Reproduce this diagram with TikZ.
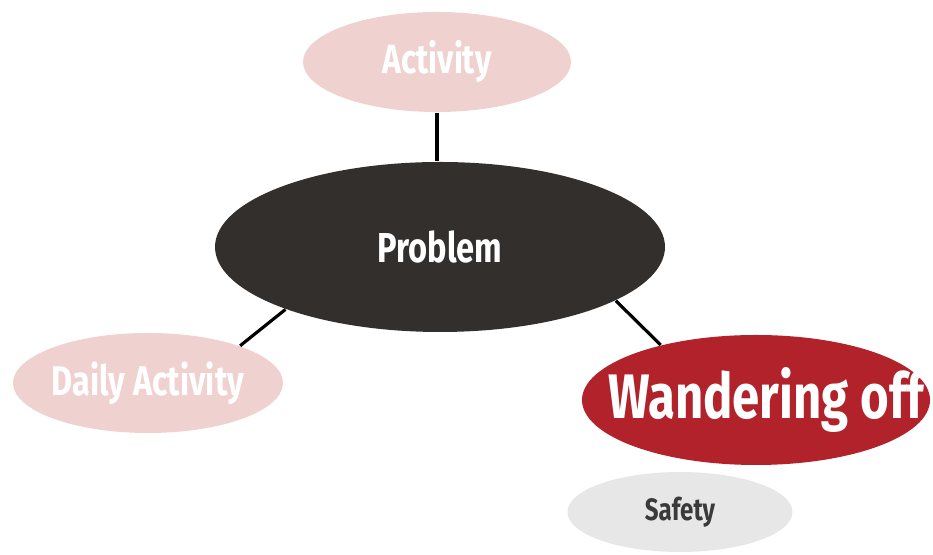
\documentclass[tikz,border=0pt]{standalone}
\usepackage{fontspec}
\usetikzlibrary{shapes.geometric}
\newfontfamily\bubblefont{Fira Sans}[FakeStretch=0.78]
\definecolor{pinkfill}{HTML}{EFD2D0}
\definecolor{darkfill}{HTML}{332F2D}
\definecolor{redfill}{HTML}{B1222A}
\definecolor{greyfill}{HTML}{E7E7E7}
\definecolor{greytext}{HTML}{3A3A3A}

\begin{document}
\begin{tikzpicture}
\tikzstyle{bubble}=[ellipse,inner xsep=-1.2cm,inner ysep=-0.3cm,font=\bubblefont\bfseries,text=white]
\useasboundingbox (0,0) rectangle (9.33,5.55);
\node[bubble,fill=darkfill,minimum width=4.5cm,minimum height=1.7cm,font=\bubblefont\bfseries\fontsize{11.9}{14}\selectfont] (Prob) at (4.40,3.08) {Problem};
\node[bubble,fill=pinkfill,minimum width=2.68cm,minimum height=1cm,font=\bubblefont\bfseries\fontsize{11.6}{14}\selectfont] (Act) at (4.37,4.93) {Activity};
\node[bubble,fill=pinkfill,minimum width=2.7cm,minimum height=1cm,font=\bubblefont\bfseries\fontsize{11.8}{14}\selectfont] (Daily) at (1.48,1.72) {Daily Activity};
\node[bubble,fill=redfill,minimum width=3.48cm,minimum height=1.3cm,font=\bubblefont\bfseries\fontsize{17.9}{21}\selectfont] (Wand) at (7.56,1.55) {\hspace{0.2cm}Wandering off};
\node[bubble,fill=greyfill,minimum width=2.25cm,minimum height=0.8cm,text=greytext,font=\bubblefont\bfseries\fontsize{8.8}{10}\selectfont] (Safe) at (6.80,0.43) {Safety};
\draw[line width=0.9pt] (Act.south) -- (Act.south |- Prob.north);
\draw[line width=0.9pt] (Daily.22) -- (Prob.202);
\draw[line width=0.9pt] (Wand.150) -- (Prob.343);
\end{tikzpicture}
\end{document}
